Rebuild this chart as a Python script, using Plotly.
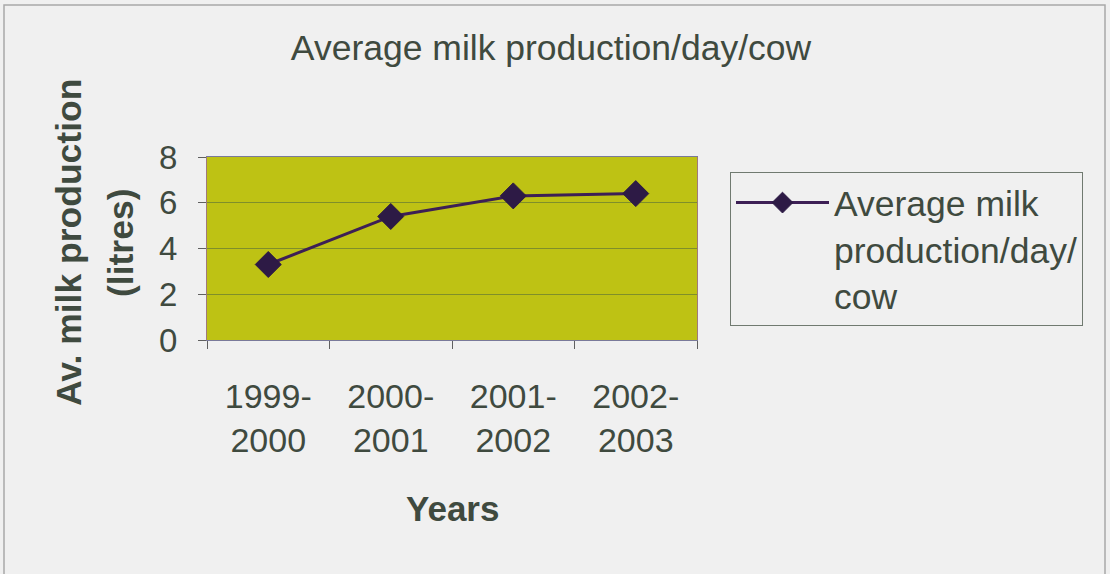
import plotly.graph_objects as go

categories = ["1999-<br>2000", "2000-<br>2001", "2001-<br>2002", "2002-<br>2003"]
milk_values = [3.3, 5.4, 6.3, 6.4]
series_name = "Average milk<br>production/day/<br>cow"
y_ticks = [0, 2, 4, 6, 8]

TXT = "#3f4a3f"
FONT = "Liberation Sans, Arial, sans-serif"

W, H = 1110, 574
L, R, T, B = 207, 697, 157, 340
pw, ph = R - L, B - T

def px(x):
    return (x - L) / pw

def py(y):
    return (B - y) / ph

fig = go.Figure()
fig.add_trace(go.Scatter(
    x=categories, y=milk_values, name=series_name,
    mode="lines+markers",
    line=dict(color="#3d1f55", width=3),
    marker=dict(symbol="diamond", size=20, color="#2d1a45",
                line=dict(color="#2d1a45", width=1)),
))

fig.update_layout(
    width=W, height=H,
    margin=dict(l=L, r=W - R, t=T, b=H - B),
    paper_bgcolor="#f0f0f0",
    plot_bgcolor="#bec214",
    font=dict(family=FONT, color=TXT, size=34),
    title=dict(text="Average milk production/day/cow", x=551 / W, xanchor="center",
               y=1 - 48 / H, yanchor="middle",
               font=dict(family=FONT, color=TXT, size=35.5)),
    showlegend=True,
    legend=dict(x=px(730), y=py(172), xanchor="left", yanchor="top",
                bgcolor="#f0f0f0", bordercolor="#707a70", borderwidth=1,
                font=dict(family=FONT, color=TXT, size=35.5),
                valign="top", itemwidth=93, tracegroupgap=0),
    xaxis=dict(type="category", tickson="boundaries", ticks="outside", ticklen=8,
               tickcolor="#606060", showgrid=False, zeroline=False,
               showline=True, linecolor="#7a7a9a", linewidth=1, mirror=True,
               tickfont=dict(size=34, color=TXT), ticklabelstandoff=26,
               range=[-0.5, 3.5]),
    yaxis=dict(range=[0, 8], tickvals=y_ticks, ticks="outside", ticklen=8,
               tickcolor="#606060", showgrid=True, gridcolor="#7f8f2a", gridwidth=1,
               zeroline=False, showline=True, linecolor="#a07a7a", linewidth=1,
               mirror=True, tickfont=dict(size=33, color=TXT), ticklabelstandoff=14),
    shapes=[dict(type="rect", xref="paper", yref="paper",
                 x0=px(4), x1=px(1105), y0=py(600), y1=py(5),
                 line=dict(color="#a8a8a8", width=1.5), layer="below")],
    annotations=[
        dict(text="<b>Av. milk production</b>", x=px(69), y=py(243), xref="paper", yref="paper",
             textangle=-90, showarrow=False, xanchor="center", yanchor="middle",
             font=dict(family=FONT, size=35.5, color=TXT)),
        dict(text="<b>(litres)</b>", x=px(121), y=py(243), xref="paper", yref="paper",
             textangle=-90, showarrow=False, xanchor="center", yanchor="middle",
             font=dict(family=FONT, size=35.5, color=TXT)),
        dict(text="<b>Years</b>", x=px(452), y=py(508), xref="paper", yref="paper",
             showarrow=False, xanchor="center", yanchor="middle",
             font=dict(family=FONT, size=35, color=TXT)),
    ],
)

fig.write_html("out.html", config={"displayModeBar": False},
               post_script="document.body.style.margin='0';document.body.style.overflow='hidden';")
